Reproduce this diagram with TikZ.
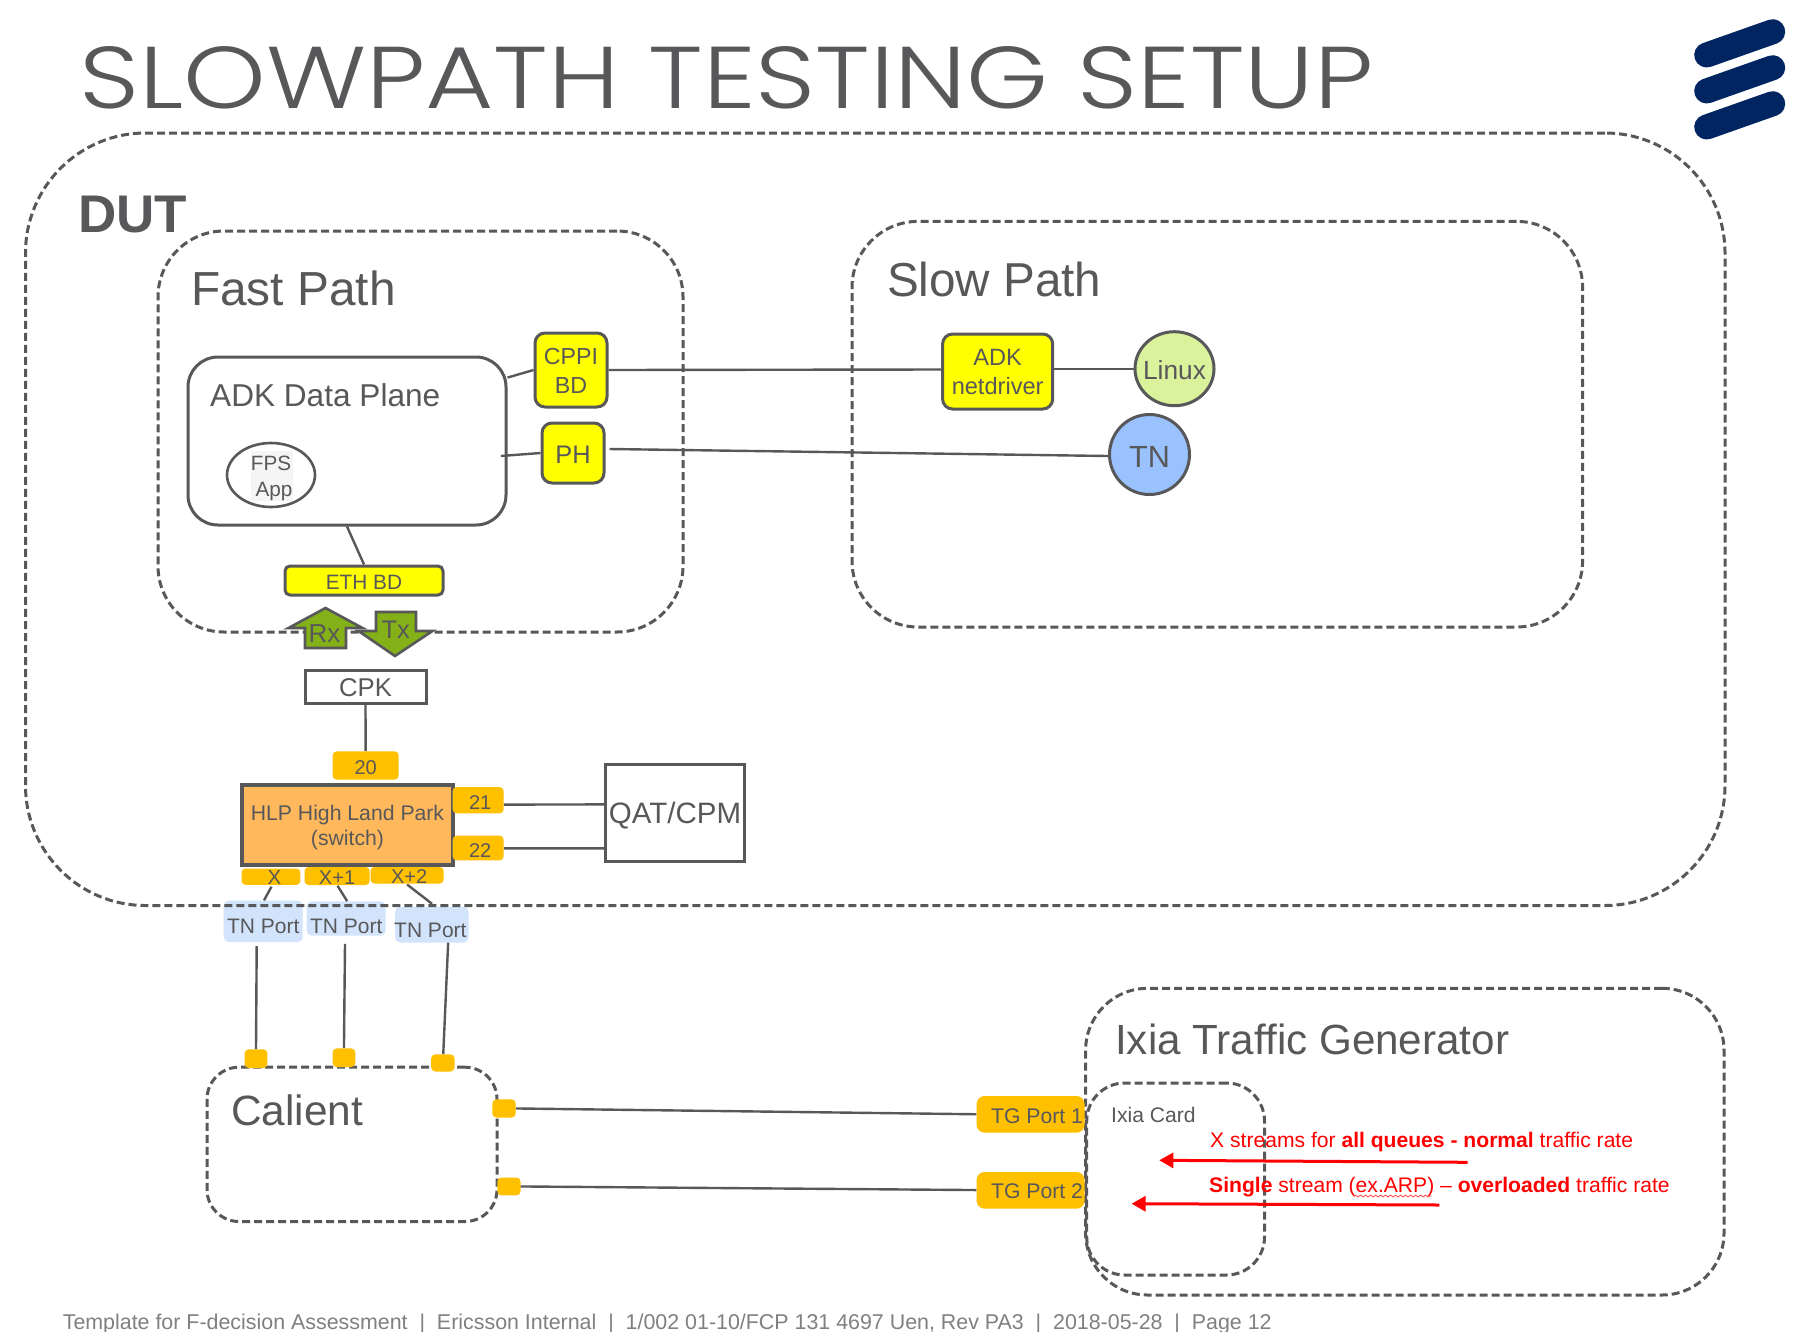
\documentclass[tikz,border=0pt]{standalone}
\usepackage{fontspec}
\setmainfont{Liberation Sans}
\newfontfamily\titlefont{Poppins Light}
\usetikzlibrary{arrows.meta,decorations.pathmorphing,shapes.geometric}
\definecolor{ink}{HTML}{58585A}
\definecolor{ambr}{HTML}{FFC000}
\definecolor{hlp}{HTML}{FFB85C}
\definecolor{lgreen}{HTML}{D9F29B}
\definecolor{lblue}{HTML}{99C2FF}
\definecolor{tnp}{HTML}{D2E4FC}
\definecolor{grn}{HTML}{84B018}
\definecolor{navy}{HTML}{002561}
\definecolor{yelw}{HTML}{FFFF00}
\definecolor{redd}{HTML}{FF0000}
% zero-height text: baseline sits #2 pt below the centre of its box
\newcommand\T[3]{\fontsize{#1pt}{#1pt}\selectfont\smash{\raisebox{-#2pt}{#3}}}
\newcommand\TT[5]{\fontsize{#1pt}{#2pt}\selectfont\smash{\raisebox{-#3pt}{\begin{tabular}[b]{@{}c@{}}#4\\#5\end{tabular}}}}
\newcommand\Lab[4]{\node[txt,anchor=#1] (#2) at #3 {#4};}
\newcommand\bx[7]{%
  \pgfmathsetmacro\cxx{(#3+#5)/2}\pgfmathsetmacro\cyy{(#4+#6)/2}%
  \pgfmathsetmacro\wdd{#5-#3}\pgfmathsetmacro\htt{#6-#4}%
  \node[#2,minimum width=\wdd pt,minimum height=\htt pt] (#1) at (\cxx,\cyy) {#7};}
\tikzset{
  txt/.style={inner sep=0pt,text=ink},
  base/.style={rectangle,inner sep=0pt,text=ink},
  dashbox/.style={base,draw=ink,line width=3pt,dash pattern=on 8pt off 4pt},
  solidbox/.style={base,draw=ink,line width=3pt},
  yel/.style={base,draw=ink,line width=3pt,fill=yelw,rounded corners=10pt},
  port/.style={base,fill=ambr,rounded corners=4pt},
  tnport/.style={base,fill=tnp,rounded corners=5pt},
  wire/.style={draw=ink,line width=2.4pt},
  redarrow/.style={draw=redd,line width=3pt,-{Triangle[length=14pt,width=15pt]}},
  bar/.style={draw=navy,line width=25pt,line cap=round}
}
\begin{document}
\begin{tikzpicture}[x=1pt,y=-1pt]
\useasboundingbox[fill=white] (0,0) rectangle (1818,1331);

% title
\node[inner sep=0pt,anchor=south west,text=ink] (title) at (79,109) {\resizebox{1294pt}{62pt}{\titlefont\fontsize{92pt}{92pt}\selectfont SLOWPATH TESTING SETUP}};
% logo
\draw[bar] (1706.7,55) -- (1772.7,31.7);
\draw[bar] (1706.7,91) -- (1772.7,67.7);
\draw[bar] (1706.7,127) -- (1772.7,103.7);

% TN ports under the DUT border
\bx{tna}{tnport}{223.7}{900.6}{302.7}{942}{\T{21}{12.5}{TN Port}}
\bx{tnb}{tnport}{306.7}{901.4}{385.7}{935.6}{\T{21}{15}{TN Port}}
\bx{tnc}{tnport}{395}{907}{468.7}{942.5}{\T{21}{13}{\hspace*{-3pt}TN Port}}

% containers
\bx{dut}{dashbox,rounded corners=120pt}{25.5}{133}{1725}{905.5}{}
\bx{fast}{dashbox,rounded corners=66pt}{158}{231}{683}{632}{}
\bx{slow}{dashbox,rounded corners=66pt}{852}{221.4}{1582.6}{627}{}
\bx{ixia}{dashbox,rounded corners=62pt}{1085.6}{988.3}{1724}{1295}{}
\bx{card}{dashbox,rounded corners=38pt}{1086.7}{1083}{1264.5}{1275}{}
\bx{cal}{dashbox,rounded corners=32pt}{207}{1067.2}{497}{1221.5}{}

\Lab{base west}{dutl}{(78,232)}{\fontsize{53pt}{54pt}\selectfont\bfseries DUT}
\Lab{base west}{fastl}{(191,305)}{\fontsize{47.8pt}{48pt}\selectfont Fast Path}
\Lab{base west}{slowl}{(887,296)}{\fontsize{47.6pt}{48pt}\selectfont Slow Path}
\Lab{base west}{ixial}{(1115,1054.6)}{\fontsize{42.2pt}{43pt}\selectfont Ixia Traffic Generator}
\Lab{base west}{cardl}{(1111,1122)}{\fontsize{21.1pt}{22pt}\selectfont Ixia Card}
\Lab{base west}{call}{(231,1125.8)}{\fontsize{42.4pt}{43pt}\selectfont Calient}

% fast path
\bx{dp}{solidbox,rounded corners=30pt}{188}{357}{506}{525}{}
\Lab{base west}{dpl}{(210,406)}{\fontsize{31.6pt}{32pt}\selectfont ADK Data Plane}
\node[ellipse,draw=ink,line width=2.6pt,fill=white,minimum width=88pt,minimum height=64pt,inner sep=0pt] (fps) at (271,475) {};
\node[inner sep=0pt,fill=black!4,text=ink,minimum width=42pt,minimum height=50pt] (fpst) at (272,476) {};
\Lab{base}{fpsa}{(271,470.7)}{\fontsize{20.7pt}{21pt}\selectfont FPS}
\Lab{base}{fpsb}{(274,496)}{\fontsize{20.7pt}{21pt}\selectfont App}
\bx{cppi}{yel}{535}{333}{607}{407}{\TT{23.2}{29}{23}{CPPI}{BD}}
\bx{ph}{yel}{542}{423}{604}{483}{\T{25.4}{10}{PH}}
\bx{eth}{yel,rounded corners=5pt}{285}{566}{443}{595}{\T{20.8}{8.5}{ETH BD}}

% slow path
\bx{adk}{yel}{942.6}{334}{1052.7}{409}{\TT{23.6}{29}{22.5}{ADK}{netdriver}}
\node[ellipse,draw=ink,line width=3pt,fill=lgreen,text=ink,minimum width=79pt,minimum height=74pt,inner sep=0pt] (linux) at (1174.5,368.7) {\T{26.3}{10.3}{\makebox[0pt]{Linux}}};
\node[ellipse,draw=ink,line width=3pt,fill=lblue,text=ink,minimum width=80pt,minimum height=80pt,inner sep=0pt] (tn) at (1149.5,454.5) {\T{30.6}{12.5}{\makebox[0pt]{TN}}};

% arrows Rx Tx
\draw[draw=ink,line width=2.6pt,fill=grn,line join=miter] (325.5,608) -- (362.5,628) -- (346,628) -- (346,648) -- (305,648) -- (305,628) -- (288.5,628) -- cycle;
\Lab{base west}{rx}{(308.5,642)}{\fontsize{26pt}{26pt}\selectfont Rx}
\draw[draw=ink,line width=2.6pt,fill=grn,line join=miter] (395,656) -- (432.5,631) -- (416,631) -- (416,612) -- (376,612) -- (376,631) -- (358.5,631) -- cycle;
\Lab{base west}{tx}{(381.5,638)}{\fontsize{25.4pt}{26pt}\selectfont Tx}

% switch
\bx{cpk}{solidbox}{305}{670}{426}{703}{\T{25.7}{9.5}{CPK}}
\bx{p20}{port}{332.6}{751.4}{398.7}{779.6}{\T{20}{9}{20}}
\bx{sw}{solidbox,line width=3.4pt,fill=hlp}{242}{785}{453}{865}{\TT{21.2}{25.7}{20.9}{HLP High Land Park}{(switch)}}
\bx{p21}{port}{452.7}{787}{503.6}{813.4}{\T{20}{9.3}{\hspace*{4pt}21}}
\bx{p22}{port}{452.7}{835.6}{503.6}{860.4}{\T{20}{9.4}{\hspace*{4pt}22}}
\bx{qat}{solidbox}{605.3}{764}{744.6}{861.7}{\T{29.5}{10.4}{QAT/CPM}}
\bx{px}{port}{241.5}{868.5}{300.4}{884.8}{\T{20.5}{7.5}{\hspace*{7pt}X}}
\bx{pxa}{port}{304.5}{867}{369.6}{885}{\T{20}{8}{X+1}}
\bx{pxb}{port}{370.5}{867}{443.7}{883.5}{\T{20}{8.7}{\hspace*{4pt}X+2}}

% calient ports
\bx{ca}{port}{244.6}{1049.3}{267.4}{1068}{}
\bx{cb}{port}{332.6}{1048.4}{355.3}{1067}{}
\bx{cc}{port}{431.2}{1054.4}{454.5}{1071.5}{}
\bx{cd}{port}{492.4}{1099.3}{515.6}{1117.6}{}
\bx{ce}{port}{497.3}{1177.5}{520.5}{1195.4}{}
\bx{tga}{port,rounded corners=8pt}{976.6}{1096}{1084.5}{1132.7}{\T{21.2}{9}{\hspace*{13pt}TG Port 1}}
\bx{tgb}{port,rounded corners=8pt}{976.6}{1172}{1084.5}{1208.7}{\T{21.2}{8}{\hspace*{13pt}TG Port 2}}

% connectors
\draw[wire] ([yshift=63.4pt]dp.east) -- (cppi.west);
\draw[wire] ([xshift=-6.6pt,yshift=-15pt]dp.east) -- (ph.west);
\draw[wire] (dp.south) -- (eth.north);
\draw[wire] (cppi.east) -- ([yshift=2pt]adk.west);
\draw[wire] ([yshift=2.8pt]adk.east) -- (linux.west);
\draw[wire] ([xshift=4pt,yshift=4pt]ph.east) -- ([yshift=-1.5pt]tn.west);
\draw[wire] (cpk.south) -- (p20.north);
\draw[wire] ([yshift=-4.4pt]p21.east) -- ([yshift=8.45pt]qat.west);
\draw[wire] ([yshift=-0.4pt]p22.east) -- ([yshift=-35.5pt]qat.west);
\draw[wire] ([xshift=0.5pt,yshift=-1.7pt]px.south) -- ([xshift=0.8pt]tna.north);
\draw[wire] ([xshift=0.5pt,yshift=-0.6pt]pxa.south) -- ([xshift=1pt]tnb.north);
\draw[wire] ([yshift=-0.8pt]pxb.south) -- ([xshift=0.2pt,yshift=3pt]tnc.north);
\draw[wire] ([xshift=-6.5pt,yshift=-4pt]tna.south) -- (ca.north);
\draw[wire] ([xshift=-1.2pt,yshift=-8pt]tnb.south) -- (cb.north);
\draw[wire] ([xshift=16.3pt]tnc.south) -- ([xshift=0.4pt]cc.north);
\draw[wire] (cd.east) -- ([yshift=0.1pt]tga.west);
\draw[wire] (ce.east) -- ([yshift=0.3pt]tgb.west);

% red streams
\coordinate (ra) at (1467.6,1162.3);
\coordinate (rb) at (1159.3,1160.3);
\coordinate (rc) at (1439.4,1205);
\coordinate (rd) at (1131.6,1203.7);
\draw[redarrow] (ra) -- (rb);
\draw[redarrow] (rc) -- (rd);
\node[inner sep=0pt,anchor=base west,text=redd] (ta) at (1210,1147.7) {\fontsize{21.1pt}{22pt}\selectfont X streams for \textbf{all queues - normal} traffic rate};
\node[inner sep=0pt,anchor=base west,text=redd] (tb) at (1209,1192.6) {\fontsize{21.1pt}{22pt}\selectfont \textbf{Single} stream (ex.ARP) – \textbf{overloaded} traffic rate};
\draw[redd!70!white,line width=0.8pt,decorate,decoration={snake,amplitude=1pt,segment length=5pt}] (1354,1196) -- (1431.6,1196);

% footer
\node[inner sep=0pt,anchor=base west,text=black!50] (foot) at (62.6,1329) {\fontsize{21.4pt}{22pt}\selectfont Template for F-decision Assessment \ |\ \ Ericsson Internal \ |\ \ 1/002 01-10/FCP 131 4697 Uen, Rev PA3 \ |\ \ 2018-05-28 \ |\ \ Page 12};
\end{tikzpicture}
\end{document}
